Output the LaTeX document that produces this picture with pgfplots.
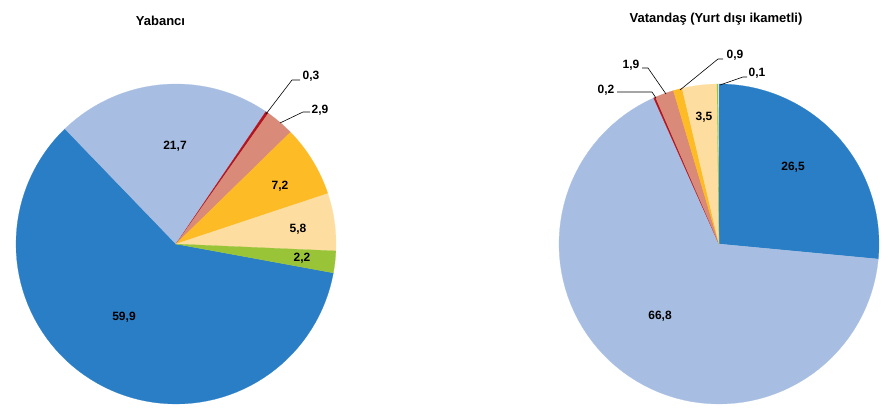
\documentclass[border=0pt]{standalone}
\usepackage{pgfplots}
\pgfplotsset{compat=1.18}
\usepackage{fontspec}
\setmainfont{Liberation Sans}
\definecolor{cDB}{RGB}{42,126,197}
\definecolor{cLB}{RGB}{167,190,226}
\definecolor{cRD}{RGB}{180,20,30}
\definecolor{cSA}{RGB}{217,138,120}
\definecolor{cGO}{RGB}{253,187,38}
\definecolor{cPE}{RGB}{254,222,160}
\definecolor{cGR}{RGB}{154,196,55}
% Yabanci shares (%), clockwise from start angle
\def\LA{59.9}\def\LB{21.7}\def\LC{0.3}\def\LD{2.9}\def\LE{7.2}\def\LF{5.8}\def\LG{2.2}
% Vatandas shares (%)
\def\RA{26.5}\def\RB{66.8}\def\RC{0.2}\def\RD{1.9}\def\RE{0.9}\def\RF{3.5}\def\RG{0.1}
\pgfmathsetmacro\Lz{10.4}
\pgfmathsetmacro\La{\Lz+3.6*\LA}
\pgfmathsetmacro\Lb{\La+3.6*\LB}
\pgfmathsetmacro\Lc{\Lb+3.6*\LC}
\pgfmathsetmacro\Ld{\Lc+3.6*\LD}
\pgfmathsetmacro\Le{\Ld+3.6*\LE}
\pgfmathsetmacro\Lf{\Le+3.6*\LF}
\pgfmathsetmacro\Lg{\Lf+3.6*\LG}
\pgfmathsetmacro\Rz{-90}
\pgfmathsetmacro\Ra{\Rz+3.6*\RA}
\pgfmathsetmacro\Rb{\Ra+3.6*\RB}
\pgfmathsetmacro\Rc{\Rb+3.6*\RC}
\pgfmathsetmacro\Rd{\Rc+3.6*\RD}
\pgfmathsetmacro\Re{\Rd+3.6*\RE}
\pgfmathsetmacro\Rf{\Re+3.6*\RF}
\pgfmathsetmacro\Rg{\Rf+3.6*\RG}
% slice: cx, cy, r, start, end, colour
\newcommand{\pieslice}[6]{%
  \addplot[fill=#6, draw=#6, line width=0.2pt, domain=#4:#5, samples=80, variable=\t]
    ({#1+#3*cos(\t)},{#2+#3*sin(\t)}) -- (axis cs:#1,#2) -- cycle;}
\tikzset{lab/.style={font=\bfseries\fontsize{12}{14}\selectfont, inner sep=0pt},
  ttl/.style={font=\bfseries\fontsize{13}{15}\selectfont, inner sep=0pt}}
\begin{document}
\begin{tikzpicture}
\begin{axis}[scale only axis, width=892pt, height=414pt,
  xmin=0, xmax=892, ymin=0, ymax=414, y dir=reverse,
  hide axis, clip=false]
\addplot[draw=none] coordinates {(0,0) (892,414)};
% left pie
\pieslice{176}{244}{160}{\Lz}{\La}{cDB}
\pieslice{176}{244}{160}{\La}{\Lb}{cLB}
\pieslice{176}{244}{160}{\Lb}{\Lc}{cRD}
\pieslice{176}{244}{160}{\Lc}{\Ld}{cSA}
\pieslice{176}{244}{160}{\Ld}{\Le}{cGO}
\pieslice{176}{244}{160}{\Le}{\Lf}{cPE}
\pieslice{176}{244}{160}{\Lf}{\Lg}{cGR}
% right pie
\pieslice{719}{244}{160}{\Rz}{\Ra}{cDB}
\pieslice{719}{244}{160}{\Ra}{\Rb}{cLB}
\pieslice{719}{244}{160}{\Rb}{\Rc}{cRD}
\pieslice{719}{244}{160}{\Rc}{\Rd}{cSA}
\pieslice{719}{244}{160}{\Rd}{\Re}{cGO}
\pieslice{719}{244}{160}{\Re}{\Rf}{cPE}
\pieslice{719}{244}{160}{\Rf}{\Rg}{cGR}
% leader lines
\addplot[black, line width=0.6pt] coordinates {(266,114) (292,80) (300,80)};
\addplot[black, line width=0.6pt] coordinates {(280,123) (303,112) (310,112)};
\addplot[black, line width=0.6pt] coordinates {(617,92) (652,92) (656,98)};
\addplot[black, line width=0.6pt] coordinates {(642,68) (648,68) (666,94)};
\addplot[black, line width=0.6pt] coordinates {(680,90) (718,59) (723,59)};
\addplot[black, line width=0.6pt] coordinates {(720,85) (743,77) (747,77)};
% titles
\node[ttl] at (axis cs:160.5,21) {Yabancı};
\node[ttl] at (axis cs:716,19) {Vatandaş (Yurt dışı ikametli)};
% left labels
\node[lab] at (axis cs:124,317) {59,9};
\node[lab] at (axis cs:175,146) {21,7};
\node[lab] at (axis cs:311,76) {0,3};
\node[lab] at (axis cs:320,110) {2,9};
\node[lab] at (axis cs:280,186) {7,2};
\node[lab] at (axis cs:298,229) {5,8};
\node[lab] at (axis cs:302,258) {2,2};
% right labels
\node[lab] at (axis cs:793,167) {26,5};
\node[lab] at (axis cs:660,316) {66,8};
\node[lab] at (axis cs:704,117) {3,5};
\node[lab] at (axis cs:606,90) {0,2};
\node[lab] at (axis cs:631,65) {1,9};
\node[lab] at (axis cs:735,55) {0,9};
\node[lab] at (axis cs:757,73) {0,1};
\end{axis}
\end{tikzpicture}
\end{document}
